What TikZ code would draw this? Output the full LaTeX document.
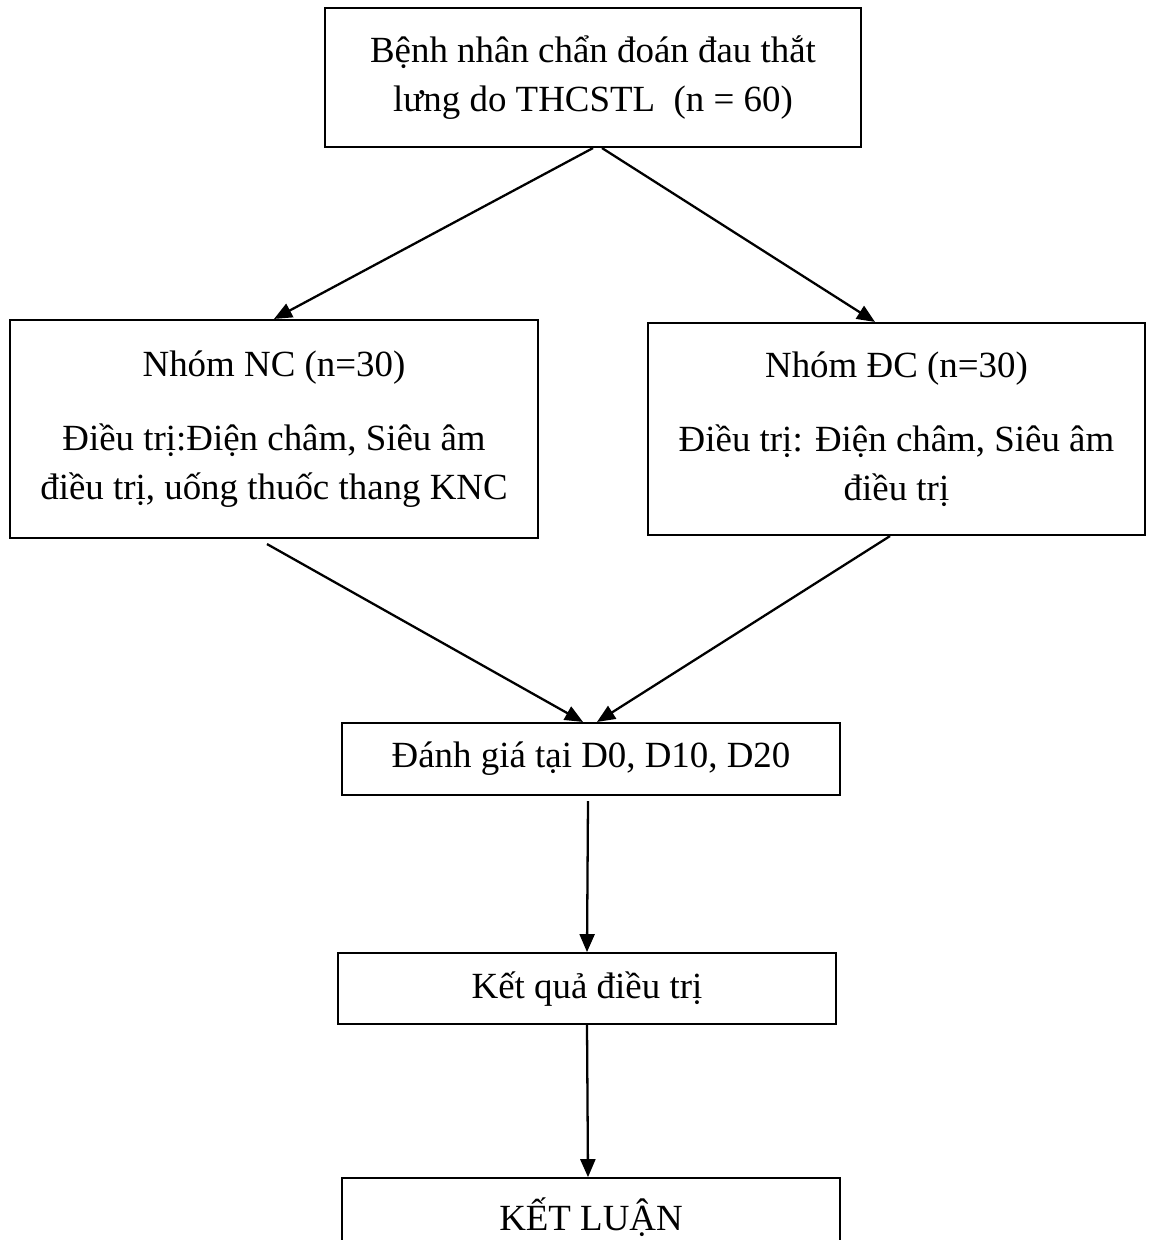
\documentclass[tikz,border=0pt]{standalone}
\usepackage{fontspec}
\setmainfont{Liberation Serif}
\usetikzlibrary{positioning,arrows.meta}

\begin{document}
\begin{tikzpicture}[
  font=\fontsize{21}{27.6}\selectfont,
  box/.style={draw, line width=1.2pt, inner sep=0pt, align=center},
  arr/.style={-{Triangle[length=0.36cm, width=0.3cm]}, line width=1.3pt}
]
\path[use as bounding box] (0,0) rectangle (22.98,-24.8);
% patients and the two groups
\node[box, minimum width=10.72cm, minimum height=2.78cm] (pt) at (11.86,-1.55)
  {Bệnh nhân chẩn đoán đau thắt\\lưng do THCSTL\ \ (n = 60)};
\node[box, minimum width=10.56cm, minimum height=4.36cm] (nc) at (5.48,-8.58)
  {Nhóm NC (n=30)\\[0.52cm]Điều trị:Điện châm, Siêu âm\\điều trị, uống thuốc thang KNC};
\node[box, minimum width=9.94cm, minimum height=4.24cm] (dc) at (17.93,-8.58)
  {Nhóm ĐC (n=30)\\[0.52cm]Điều trị: Điện châm, Siêu âm\\điều trị};
% evaluation chain
\node[box, minimum width=9.96cm, minimum height=1.44cm] (eval) at (11.82,-15.18)
  {Đánh giá tại D0, D10, D20};
\node[box, minimum width=9.96cm, minimum height=1.42cm, below=3.12cm of eval, xshift=-0.08cm] (kq)
  {Kết quả điều trị};
\node[box, minimum width=9.96cm, minimum height=1.56cm, below=3.04cm of kq, xshift=0.08cm] (kl)
  {KẾT LUẬN};
% arrows
\draw[arr] (pt.south) -- (nc.north);
\draw[arr] ([xshift=0.18cm]pt.south) -- ([xshift=-0.43cm]dc.north);
\draw[arr] ([xshift=-0.14cm, yshift=-0.1cm]nc.south) -- ([xshift=-0.16cm]eval.north);
\draw[arr] ([xshift=-0.13cm]dc.south) -- ([xshift=0.12cm]eval.north);
\draw[arr] ([xshift=-0.06cm, yshift=-0.1cm]eval.south) -- (kq.north);
\draw[arr] (kq.south) -- ([xshift=-0.06cm]kl.north);
\end{tikzpicture}
\end{document}
